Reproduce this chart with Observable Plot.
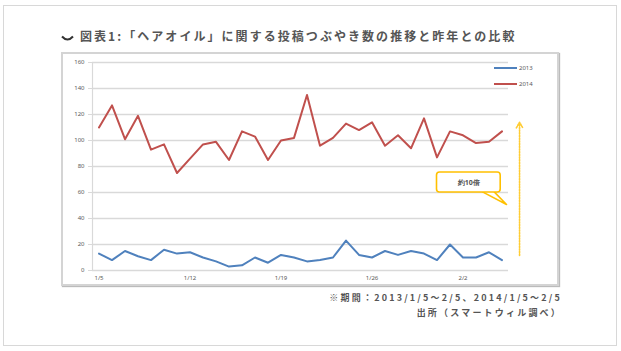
<!DOCTYPE html>
<html><head><meta charset="utf-8">
<script src="https://cdn.jsdelivr.net/npm/d3@7"></script>
<script src="https://cdn.jsdelivr.net/npm/@observablehq/plot@0.6"></script>
<style>
body{margin:0;background:#fff;font-family:"Noto Sans CJK JP","Noto Sans",sans-serif;}
#wrap{position:relative;width:621px;height:351px;overflow:hidden;background:#fff}
#outer{position:absolute;left:3px;top:5px;width:614px;height:341px;border:1px solid #d8d8d8;box-sizing:border-box}
#chev{position:absolute;left:61px;top:35px}
#title{position:absolute;left:80px;top:28px;font-size:12px;font-weight:bold;color:#555;letter-spacing:2.05px;white-space:nowrap;line-height:16px}
#frame{position:absolute;left:61px;top:52px;width:498px;height:234px;border:2px solid #d4d4d4;box-sizing:border-box;box-shadow:1px 1px 1px #bbb}
#chart{position:absolute;left:62px;top:53px}
.note{position:absolute;right:59px;font-size:9px;font-weight:bold;color:#555;letter-spacing:2.2px;white-space:nowrap;line-height:12px}
.leg{position:absolute;left:494px;font-size:6px;color:#595959;font-family:"Noto Sans",sans-serif;line-height:8px;white-space:nowrap}
.leg span{display:inline-block;width:23px;height:2px;vertical-align:middle;margin-right:2px}
</style></head>
<body>
<div id="wrap">
  <div id="outer"></div>
  <svg id="chev" width="13" height="8"><path d="M1 1.5 Q6.5 7.5 12 1.5" fill="none" stroke="#333" stroke-width="2"/></svg>
  <div id="title"></div>
  <div id="frame"></div>
  <div id="chart"></div>
  <div id="legend"></div>
  <div class="note" id="note1" style="top:292px"></div>
  <div class="note" id="note2" style="top:307px"></div>
</div>
<script>
const titleText = "図表1:「ヘアオイル」に関する投稿つぶやき数の推移と昨年との比較";
const note1 = "※期間：2013/1/5〜2/5、2014/1/5〜2/5";
const note2 = "出所（スマートウィル調べ）";
const dates = ["1/5","1/6","1/7","1/8","1/9","1/10","1/11","1/12","1/13","1/14","1/15","1/16","1/17","1/18","1/19","1/20","1/21","1/22","1/23","1/24","1/25","1/26","1/27","1/28","1/29","1/30","1/31","2/1","2/2","2/3","2/4","2/5"];
const tickLabels = ["1/5","1/12","1/19","1/26","2/2"];
const yTicks = [0,20,40,60,80,100,120,140,160];
const series = ["2013","2014"];
const colors = ["#4F81BD","#C0504D"];
const s2013 = [13,8,15,11,8,16,13,14,10,7,3,4,10,6,12,10,7,8,10,23,12,10,15,12,15,13,8,20,10,10,14,8];
const s2014 = [110,127,101,119,93,97,75,86,97,99,85,107,103,85,100,102,135,96,102,113,108,114,96,104,94,117,87,107,104,98,99,107];
const calloutText = "約10倍";

document.getElementById("title").textContent = titleText;
document.getElementById("note1").textContent = note1;
document.getElementById("note2").textContent = note2;

const leg = document.getElementById("legend");
series.forEach((s,k)=>{
  const d = document.createElement("div");
  d.className = "leg";
  d.style.top = (64 + k*16) + "px";
  d.innerHTML = `<span style="background:${colors[k]}"></span>${s}`;
  leg.appendChild(d);
});

const data = [];
dates.forEach((d,i)=>{
  data.push({i, date:d, v:s2013[i], s:series[0]});
  data.push({i, date:d, v:s2014[i], s:series[1]});
});

const Y = "#ffc000";
const chart = Plot.plot({
  width:496, height:232,
  marginLeft:30, marginRight:50, marginTop:9, marginBottom:15,
  style:{fontFamily:"'Noto Sans',sans-serif", fontSize:"6px", color:"#595959", background:"transparent", overflow:"visible"},
  x:{domain:[-0.5,31.5], label:null},
  y:{domain:[0,160], label:null},
  color:{domain:series, range:colors},
  marks:[
    Plot.ruleY(yTicks, {stroke:"#d9d9d9", strokeWidth:1.6}),
    Plot.ruleX([-0.5], {stroke:"#d9d9d9", strokeWidth:1.2}),
    Plot.axisY(yTicks, {tickSize:4, tickPadding:4, stroke:"#d9d9d9", fill:"#595959", label:null}),
    Plot.axisX(tickLabels.map(t=>dates.indexOf(t)), {tickSize:0, tickPadding:5, tickFormat:i=>dates[i], fill:"#595959", label:null}),
    Plot.line(data, {x:"i", y:"v", z:"s", stroke:"s", strokeWidth:2}),
    Plot.arrow({length:1}, {x1:32.35, x2:32.35, y1:11.5, y2:114, stroke:"#ffcc33", strokeWidth:1.6, strokeDasharray:"1.5,1.2", headLength:6}),
    Plot.line([{x:29.5,y:60.5},{x:31.35,y:50.8},{x:30.4,y:60.5}], {x:"x", y:"y", stroke:Y, strokeWidth:1.6, fill:"white"}),
    Plot.rect({length:1}, {x1:26.0, x2:30.9, y1:60, y2:75.4, fill:"white", stroke:Y, strokeWidth:1.6, rx:3}),
    Plot.text([calloutText], {x:28.45, y:67.7, text:d=>d, fontSize:7, fill:"#555", fontWeight:"bold"})
  ]
});
document.getElementById("chart").appendChild(chart);
</script>
</body></html>
